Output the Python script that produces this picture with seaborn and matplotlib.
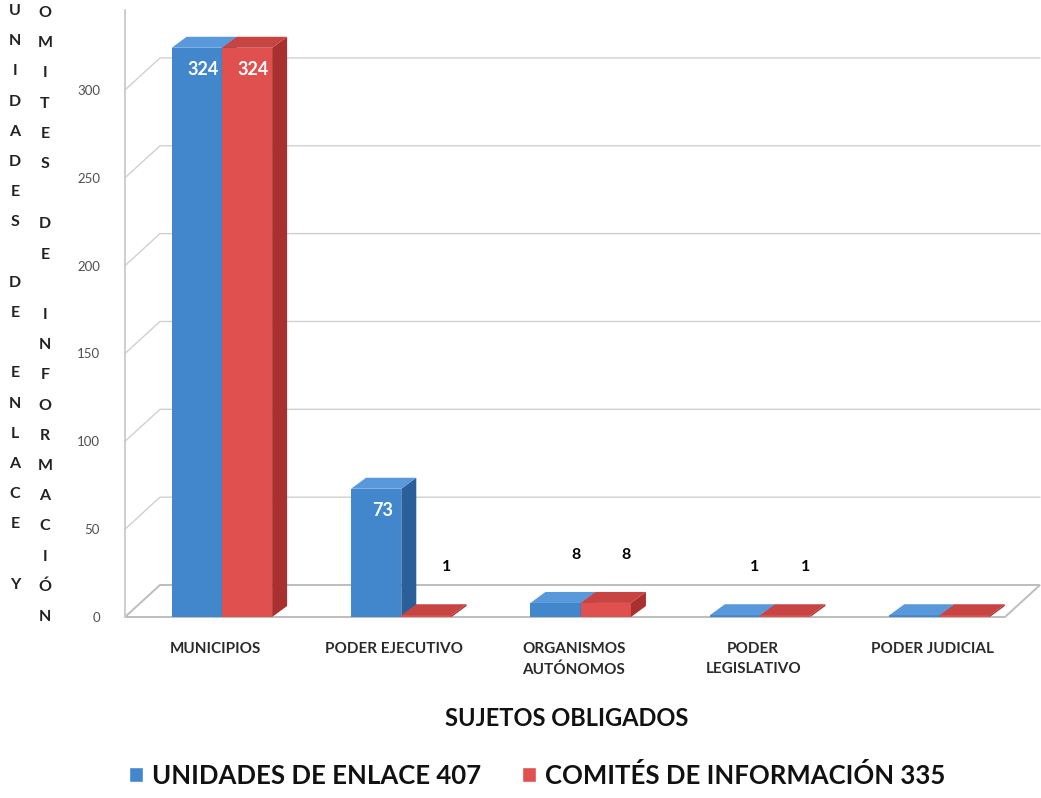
import numpy as np
import pandas as pd
import seaborn as sns
import matplotlib.pyplot as plt
import matplotlib.transforms as mtransforms
from matplotlib.patches import Polygon, Patch

# Datos
categorias = ["MUNICIPIOS", "PODER EJECUTIVO", "ORGANISMOS\nAUTÓNOMOS",
              "PODER\nLEGISLATIVO", "PODER JUDICIAL"]
unidades = [324, 73, 8, 1, 1]
comites = [324, 1, 8, 1, 1]
series = ["UNIDADES DE ENLACE 407", "COMITÉS DE INFORMACIÓN 335"]
ticks_y = [0, 50, 100, 150, 200, 250, 300]
mostrar_etiqueta = [True, True, True, True, False]

df = pd.DataFrame({
    "SUJETO": categorias * 2,
    "VALOR": unidades + comites,
    "SERIE": [series[0]] * len(categorias) + [series[1]] * len(categorias),
})

azul = "#4286cc"
azul_lado = "#2b5f99"
azul_tope = "#5a98dc"
rojo = "#e0504f"
rojo_lado = "#a8302f"
rojo_tope = "#c84442"

sns.set_theme(style="white")
plt.rcParams['font.family'] = ['Lato', 'DejaVu Sans']

W, H = 1041, 798
fig = plt.figure(figsize=(W / 100, H / 100), dpi=100)
ax = fig.add_axes([125 / W, 1 - 617 / H, 915 / W, 607 / H])

sns.barplot(data=df, x="SUJETO", y="VALOR", hue="SERIE", palette=[azul, rojo],
            width=0.56, saturation=1, linewidth=0, legend=False, ax=ax)
barras = list(ax.patches)
ax.set_xlim(-0.54, 4.56)
ax.set_ylim(0, 345.5)
ax.set_yticks(ticks_y)
ax.set_xlabel("")
ax.set_ylabel("")
for s in ["top", "right", "bottom"]:
    ax.spines[s].set_visible(False)
ax.spines["left"].set_color("#c8c8c8")
ax.tick_params(axis="y", length=0, pad=18, labelsize=9.5, labelcolor="#505050")
ax.tick_params(axis="x", length=0, pad=18, labelsize=11, labelcolor="#2a2a2a")
for lbl in ax.get_xticklabels():
    lbl.set_fontweight("bold")
    lbl.set_linespacing(1.55)
    lbl.set_transform(lbl.get_transform() +
                      mtransforms.ScaledTranslation(-5 / 72, 0, fig.dpi_scale_trans))


def px2data(dx, dy):
    p0 = ax.transData.transform((0, 0))
    a = ax.transData.inverted().transform(p0 + np.array([dx, dy]))
    return a[0], a[1]


# piso y paredes en perspectiva
xl, xr = ax.get_xlim()
dxf, dyf = px2data(35, 32)
ax.add_patch(Polygon([(xl, 0), (xl + dxf, dyf), (xr, dyf), (xr - dxf, 0)],
                     closed=True, facecolor="white", edgecolor="#bdbdbd",
                     lw=1.4, zorder=0.5, clip_on=False))
for v in ticks_y[1:]:
    ax.plot([xl, xl + dxf, xr], [v, v + dyf, v + dyf], color="#d0d0d0",
            lw=1, zorder=0.4, clip_on=False)

# caras 3D de las barras
dxb, dyb = px2data(15, 11)
n = len(categorias)
for i, p in enumerate(barras):
    serie = i // n
    x0, w, h = p.get_x(), p.get_width(), p.get_height()
    lado, tope = (azul_lado, azul_tope) if serie == 0 else (rojo_lado, rojo_tope)
    z = 2 + serie
    p.set_zorder(z)
    ax.add_patch(Polygon([(x0 + w, 0), (x0 + w + dxb, dyb), (x0 + w + dxb, h + dyb), (x0 + w, h)],
                         closed=True, facecolor=lado, lw=0, zorder=z))
    ax.add_patch(Polygon([(x0, h), (x0 + dxb, h + dyb), (x0 + w + dxb, h + dyb), (x0 + w, h)],
                         closed=True, facecolor=tope, lw=0, zorder=z))
    j = i % n
    if not mostrar_etiqueta[j]:
        continue
    xc = x0 + w / 2
    if h > 50:
        ax.annotate(f"{h:.0f}", (xc, h), xytext=(6, -22), textcoords="offset pixels",
                    ha="center", va="center", color="white", fontsize=13,
                    fontweight="bold", zorder=5)
    else:
        ax.annotate(f"{h:.0f}", (xc, h), xytext=(20, 48), textcoords="offset pixels",
                    ha="center", va="center", color="black", fontsize=11.5,
                    fontweight="bold", zorder=5)

# titulo del eje y en letras apiladas
col1 = "UNIDADES DE ENLACE Y"
col2 = "COMITES DE INFORMACIÓN"
paso = 30.2
for k, ch in enumerate(col1):
    fig.text(15 / W, 1 - (11 + k * paso) / H, ch, ha="center", va="center",
             fontsize=11.5, fontweight="bold", color="#222222")
for k, ch in enumerate(col2):
    fig.text(45 / W, 1 - (13 - paso + k * paso) / H, ch, ha="center", va="center",
             fontsize=11.5, fontweight="bold", color="#222222")

fig.text(567 / W, 1 - 718 / H, "SUJETOS OBLIGADOS", ha="center", va="center",
         fontsize=17, fontweight="bold", color="#111111")

handles = [Patch(facecolor=azul), Patch(facecolor=rojo)]
fig.legend(handles, series, loc="center", bbox_to_anchor=(537 / W, 1 - 775 / H),
           ncol=2, frameon=False, prop={"size": 18.5, "weight": "bold"},
           handlelength=0.55, handleheight=0.55, handletextpad=0.35, columnspacing=1.6)
for t in fig.legends[0].get_texts():
    t.set_color("#111111")

plt.savefig("out.png", dpi=100)
